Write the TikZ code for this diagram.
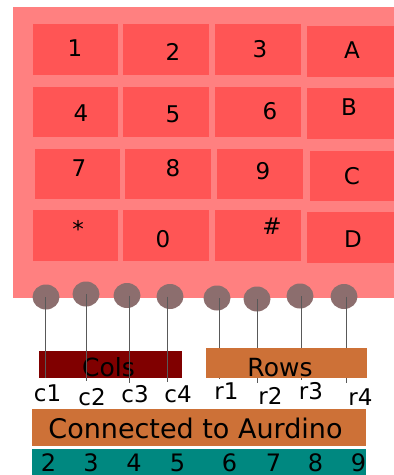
\documentclass[tikz,border=0pt]{standalone}
\usepackage{fontspec}
\usetikzlibrary{shapes.geometric}
\setmainfont{DejaVu Sans}
\definecolor{pad}{HTML}{FF8080}
\definecolor{keyc}{HTML}{FF5555}
\definecolor{pinc}{HTML}{8C6E6E}
\definecolor{colsc}{HTML}{800000}
\definecolor{orng}{HTML}{CD7137}
\definecolor{tealc}{HTML}{008880}
\begin{document}
\begin{tikzpicture}[x=1pt,y=-1pt,
  keybox/.style={fill=keyc,draw=none},
  keytxt/.style={font=\fontsize{23}{23}\selectfont,inner sep=0pt},
  pin/.style={fill=pinc,draw=none,ellipse,minimum width=27pt,minimum height=25pt,inner sep=0pt},
  wire/.style={draw=black!65,line width=0.8pt},
  lbl/.style={font=\fontsize{23}{23}\selectfont,inner sep=0pt},
  num/.style={font=\fontsize{24}{24}\selectfont,inner sep=0pt}]
\useasboundingbox (0,0) rectangle (394,475);
\fill[white] (0,0) rectangle (394,475);
% pad
\fill[pad] (13,7) rectangle (394,298);
% keys row 1
\fill[keybox] (33,24) rectangle (118,75);
\fill[keybox] (123,24) rectangle (209,75);
\fill[keybox] (215,24) rectangle (301,75);
\fill[keybox] (307,26) rectangle (394,77);
% row 2
\fill[keybox] (33,87) rectangle (118,137);
\fill[keybox] (123,87) rectangle (209,137);
\fill[keybox] (215,87) rectangle (301,137);
\fill[keybox] (307,88) rectangle (394,139);
% row 3
\fill[keybox] (35,149) rectangle (120,199);
\fill[keybox] (125,149) rectangle (211,199);
\fill[keybox] (217,149) rectangle (303,199);
\fill[keybox] (310,151) rectangle (394,201);
% row 4
\fill[keybox] (33,210) rectangle (118,261);
\fill[keybox] (123,210) rectangle (209,261);
\fill[keybox] (215,210) rectangle (301,261);
\fill[keybox] (307,212) rectangle (394,263);
% key labels
\node[keytxt] (k1) at (75,48) {1};
\node[keytxt] (k2) at (173,52) {2};
\node[keytxt] (k3) at (260,49) {3};
\node[keytxt] (kA) at (352,50) {A};
\node[keytxt] (k4) at (81,113) {4};
\node[keytxt] (k5) at (173,114) {5};
\node[keytxt] (k6) at (270,111) {6};
\node[keytxt] (kB) at (349,107) {B};
\node[keytxt] (k7) at (79,168) {7};
\node[keytxt] (k8) at (173,168) {8};
\node[keytxt] (k9) at (263,171) {9};
\node[keytxt] (kC) at (352,176) {C};
\node[keytxt] (ks) at (78,229) {*};
\node[keytxt] (k0) at (163,239) {0};
\node[keytxt] (kh) at (272,226) {\#};
\node[keytxt] (kD) at (353,239) {D};
% pins
\node[pin] (p1) at (46,297) {};
\node[pin] (p2) at (86,294) {};
\node[pin] (p3) at (127,295.5) {};
\node[pin] (p4) at (170,296.5) {};
\node[pin] (p5) at (217,298) {};
\node[pin] (p6) at (257,299) {};
\node[pin] (p7) at (300,296) {};
\node[pin] (p8) at (344,296.5) {};
% cols box (under wires)
\node[fill=colsc,draw=none,minimum width=143pt,minimum height=27pt,inner sep=0pt,anchor=north west] (cols) at (39,351) {};
\node[font=\fontsize{25}{25}\selectfont,inner sep=0pt] (colst) at (108.5,367) {Cols};
% wire end points
\coordinate (e1) at (45,378);
\coordinate (e2) at (86.5,381);
\coordinate (e3) at (129,383);
\coordinate (e4) at (167.5,382);
\coordinate (e5) at (219.5,379);
\coordinate (e6) at (257.5,383);
\coordinate (e7) at (301,380);
\coordinate (e8) at (346,383);
\draw[wire] (p1.center -| e1) -- (e1);
\draw[wire] (p2.center -| e2) -- (e2);
\draw[wire] (p3.center -| e3) -- (e3);
\draw[wire] (p4.center -| e4) -- (e4);
\draw[wire] (p5.center -| e5) -- (e5);
\draw[wire] (p6.center -| e6) -- (e6);
\draw[wire] (p7.center -| e7) -- (e7);
\draw[wire] (p8.center -| e8) -- (e8);
% rows box
\node[fill=orng,draw=none,minimum width=161pt,minimum height=30pt,inner sep=0pt,anchor=north west] (rows) at (206,348) {};
\node[font=\fontsize{25}{25}\selectfont,inner sep=0pt] (rowst) at (280,368) {Rows};
% labels
\node[lbl] (c1) at (47.5,393) {c1};
\node[lbl] (c2) at (92,397) {c2};
\node[lbl] (c3) at (135,394) {c3};
\node[lbl] (c4) at (178,394) {c4};
\node[lbl] (r1) at (226.5,391) {r1};
\node[lbl] (r2) at (270.5,396) {r2};
\node[lbl] (r3) at (311,391) {r3};
\node[lbl] (r4) at (360.5,397) {r4};
% connected box
\node[fill=orng,draw=none,minimum width=334pt,minimum height=37pt,inner sep=0pt,anchor=north west] (conn) at (32,408.5) {};
\node[font=\fontsize{27}{27}\selectfont,inner sep=0pt] (connt) at (195.5,428) {Connected to Aurdino};
% teal box
\node[fill=tealc,draw=none,minimum width=334pt,minimum height=27pt,inner sep=0pt,anchor=north west] (teal) at (32,448.5) {};
\node[num] (n2) at (48.5,462.5) {2};
\node[num] (n3) at (91,462.5) {3};
\node[num] (n4) at (134,462.5) {4};
\node[num] (n5) at (177.5,462.5) {5};
\node[num] (n6) at (229.5,462.5) {6};
\node[num] (n7) at (273.5,462.5) {7};
\node[num] (n8) at (315.5,462.5) {8};
\node[num] (n9) at (358.5,462.5) {9};
\end{tikzpicture}
\end{document}
